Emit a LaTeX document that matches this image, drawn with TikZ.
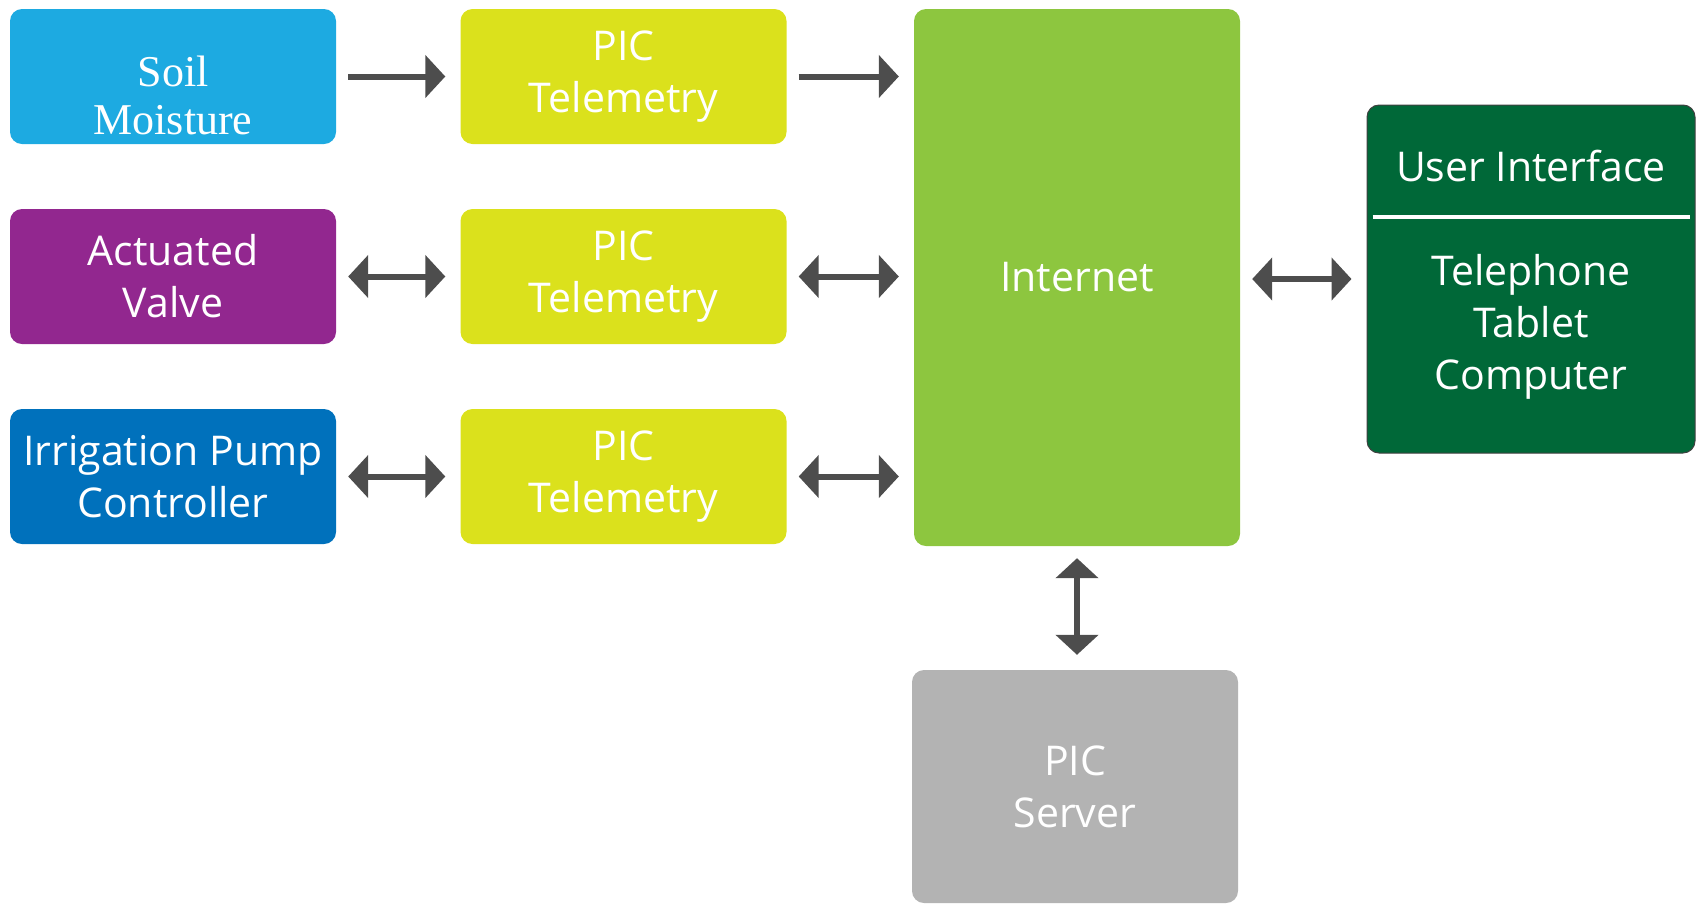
\documentclass[tikz,border=0pt]{standalone}
\usepackage{fontspec}
\usepackage{tikz}
\usetikzlibrary{calc,arrows.meta}
\newfontfamily\boxfont{Open Sans}
\newfontfamily\soilfont{Liberation Serif}
\definecolor{soilblue}{HTML}{1DAAE1}
\definecolor{valvepurple}{HTML}{92278F}
\definecolor{pumpblue}{HTML}{0071BC}
\definecolor{picyellow}{HTML}{DBE11C}
\definecolor{netgreen}{HTML}{8DC63F}
\definecolor{uigreen}{HTML}{006838}
\definecolor{servergray}{HTML}{B3B3B3}
\definecolor{arrowgray}{HTML}{4D4D4D}
\tikzset{blk/.style={rounded corners=12pt,minimum width=326pt,minimum height=135pt,inner sep=0pt,text=white,align=center,font=\boxfont\fontsize{41}{52}\selectfont},
lnk/.style={arrowgray,line width=6pt,-{Triangle[length=20pt,width=42pt]},shorten <=12pt,shorten >=15pt},
dlnk/.style={lnk,{Triangle[length=20pt,width=42pt]}-{Triangle[length=20pt,width=42pt]}}}

\begin{document}
\begin{tikzpicture}[x=1pt,y=-1pt]
\useasboundingbox (0,0) rectangle (1696,903);
\node[blk,fill=soilblue] (soil) at (173,76.5) {};
\node[text=white,align=center,inner sep=0pt,font=\soilfont\fontsize{44}{48}\selectfont] (soiltxt) at (173,95) {Soil\\Moisture};
\node[blk,fill=picyellow] (pic1) at (623.5,76.5) {PIC\\Telemetry};
\node[blk,fill=valvepurple] (valve) at (173,276.5) {Actuated\\Valve};
\node[blk,fill=picyellow] (pic2) at (623.5,276.5) {PIC\\Telemetry};
\node[blk,fill=pumpblue] (pump) at (173,476.5) {Irrigation Pump\\Controller};
\node[blk,fill=picyellow] (pic3) at (623.5,476.5) {PIC\\Telemetry};
\node[blk,fill=netgreen,minimum height=537pt] (internet) at (1077,277.5) {Internet};
\node[blk,fill=servergray,minimum height=233pt] (server) at (1075,786.5) {PIC\\Server};
\node[blk,fill=uigreen,draw=black!75,line width=1pt,minimum width=328pt,minimum height=348pt] (ui) at (1531,279) {};
\node[blk,minimum width=0pt,minimum height=0pt] (uihead) at (1531,166) {User Interface};
\node[blk,minimum width=0pt,minimum height=0pt] (uilist) at (1531,327) {Telephone\\Tablet\\Computer};
\draw[white,line width=4pt] ($(ui.north west)+(6,112)$) -- ($(ui.north east)+(-6,112)$);
\draw[lnk] (soil.east) -- (pic1.west);
\draw[lnk] (pic1.east) -- (pic1.east -| internet.west);
\draw[dlnk] (valve.east) -- (pic2.west);
\draw[dlnk] (pic2.east) -- (pic2.east -| internet.west);
\draw[dlnk] (pump.east) -- (pic3.west);
\draw[dlnk] (pic3.east) -- (pic3.east -| internet.west);
\draw[dlnk] (ui.west -| internet.east) -- (ui.west);
\draw[dlnk] (internet.south) -- (internet.south |- server.north);
\end{tikzpicture}
\end{document}
